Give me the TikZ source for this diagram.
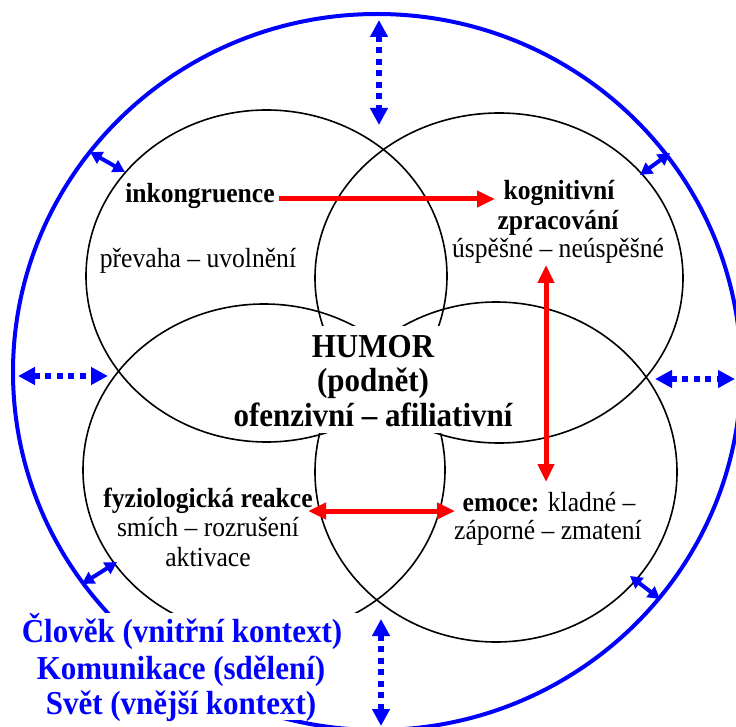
\documentclass[tikz,border=0pt]{standalone}
\usepackage{fontspec}
\usepackage{graphicx}
\setmainfont{Liberation Serif}
\usetikzlibrary{arrows.meta}
\definecolor{pblue}{RGB}{0,0,255}
\definecolor{pred}{RGB}{255,0,0}
\newcommand{\vstretchtxt}[1]{\scalebox{1}[1.08]{#1}}
\begin{document}
\begin{tikzpicture}[x=1pt,y=-1pt,
  circ/.style={draw=black, line width=1.6pt},
  ctxring/.style={draw=pblue, line width=4pt},
  body/.style={font=\fontsize{25.6}{29.5}\selectfont, inner sep=0pt, anchor=base},
  lab/.style={font=\fontsize{25.6}{29.5}\selectfont\bfseries, inner sep=0pt, anchor=base},
  big/.style={font=\fontsize{31}{35}\selectfont\bfseries, inner sep=0pt, anchor=base},
  bluetxt/.style={big, text=pblue},
  whitebox/.style={fill=white, inner sep=0pt, draw=none},
  redarr/.style={draw=pred, line width=5pt, -{Triangle[length=18pt,width=16pt]}},
  redboth/.style={draw=pred, line width=5pt, {Triangle[length=18pt,width=16pt]}-{Triangle[length=18pt,width=16pt]}},
  dotarr/.style={draw=pblue, line width=5.5pt, dash pattern=on 6pt off 5.5pt, {Triangle[length=17pt,width=17pt]}-{Triangle[length=17pt,width=17pt]}},
  shortarr/.style={draw=pblue, line width=4pt, {Triangle[length=12pt,width=13pt]}-{Triangle[length=12pt,width=13pt]}}
]
\useasboundingbox (0,0) rectangle (736,727);
\clip (0,0) rectangle (736,727);

% context ring
\draw[ctxring] (377,372) ellipse [x radius=364pt, y radius=358pt];

% four circles
\draw[circ] (266.5,276) ellipse [x radius=180.5pt, y radius=166pt];
\draw[circ] (499,278) ellipse [x radius=184pt, y radius=165pt];
\draw[circ] (264,470) ellipse [x radius=181pt, y radius=166pt];
\draw[circ] (496,472) ellipse [x radius=181pt, y radius=170pt];

% white boxes behind central and context texts
\node[whitebox, minimum width=290pt, minimum height=107pt] (humbox) at (373,379.5) {};
\node[whitebox, minimum width=344pt, minimum height=107pt] (ctxbox) at (186,666.5) {};

% texts
\node[lab] (ink) at (200,203) {\vstretchtxt{inkongruence}};
\node[body] (prev) at (198,268) {\vstretchtxt{převaha -- uvolnění}};
\node[lab] (kog1) at (559,200) {\vstretchtxt{kognitivní}};
\node[lab] (kog2) at (558,230) {\vstretchtxt{zpracování}};
\node[body] (kog3) at (558,258) {\vstretchtxt{úspěšné -- neúspěšné}};
\node[big] (hum1) at (373,357) {\vstretchtxt{HUMOR}};
\node[big] (hum2) at (373,391) {\vstretchtxt{(podnět)}};
\node[big] (hum3) at (373,426) {\vstretchtxt{ofenzivní -- afiliativní}};
\node[lab] (fyz1) at (208,507) {\vstretchtxt{fyziologická reakce}};
\node[body] (fyz2) at (208,536) {\vstretchtxt{smích -- rozrušení}};
\node[body] (fyz3) at (208,566) {\vstretchtxt{aktivace}};
\node[body] (emo1) at (549,511) {\vstretchtxt{\textbf{emoce:} kladné --}};
\node[body] (emo2) at (548,539) {\vstretchtxt{záporné -- zmatení}};
\node[bluetxt] (ctx1) at (182,642) {\vstretchtxt{Člověk (vnitřní kontext)}};
\node[bluetxt] (ctx2) at (181,679) {\vstretchtxt{Komunikace (sdělení)}};
\node[bluetxt] (ctx3) at (181,714) {\vstretchtxt{Svět (vnější kontext)}};

% arrow end points
\coordinate (r1a) at (279,199);
\coordinate (r1b) at (495,199);
\coordinate (r2a) at (546,265);
\coordinate (r2b) at (546,482);
\coordinate (r3a) at (308,511);
\coordinate (r3b) at (455,511);

\coordinate (dTa) at (379,20);
\coordinate (dTb) at (379,125);
\coordinate (dLa) at (18,376);
\coordinate (dLb) at (108,376);
\coordinate (dRa) at (655,379);
\coordinate (dRb) at (735,379);
\coordinate (dBa) at (381,619);
\coordinate (dBb) at (381,726);

\coordinate (sULa) at (90,152);
\coordinate (sULb) at (125,172);
\coordinate (sURa) at (640,175);
\coordinate (sURb) at (670,153);
\coordinate (sLLa) at (82,584);
\coordinate (sLLb) at (117,562);
\coordinate (sLRa) at (630,576);
\coordinate (sLRb) at (660,599);

% red arrows
\draw[redarr] (r1a) -- (r1b);
\draw[redboth] (r2a) -- (r2b);
\draw[redboth] (r3a) -- (r3b);

% blue dotted arrows
\draw[dotarr] (dTa) -- (dTb);
\draw[dotarr] (dLa) -- (dLb);
\draw[dotarr] (dRa) -- (dRb);
\draw[dotarr] (dBa) -- (dBb);

% blue short arrows
\draw[shortarr] (sULa) -- (sULb);
\draw[shortarr] (sURa) -- (sURb);
\draw[shortarr] (sLLa) -- (sLLb);
\draw[shortarr] (sLRa) -- (sLRb);
\end{tikzpicture}
\end{document}
